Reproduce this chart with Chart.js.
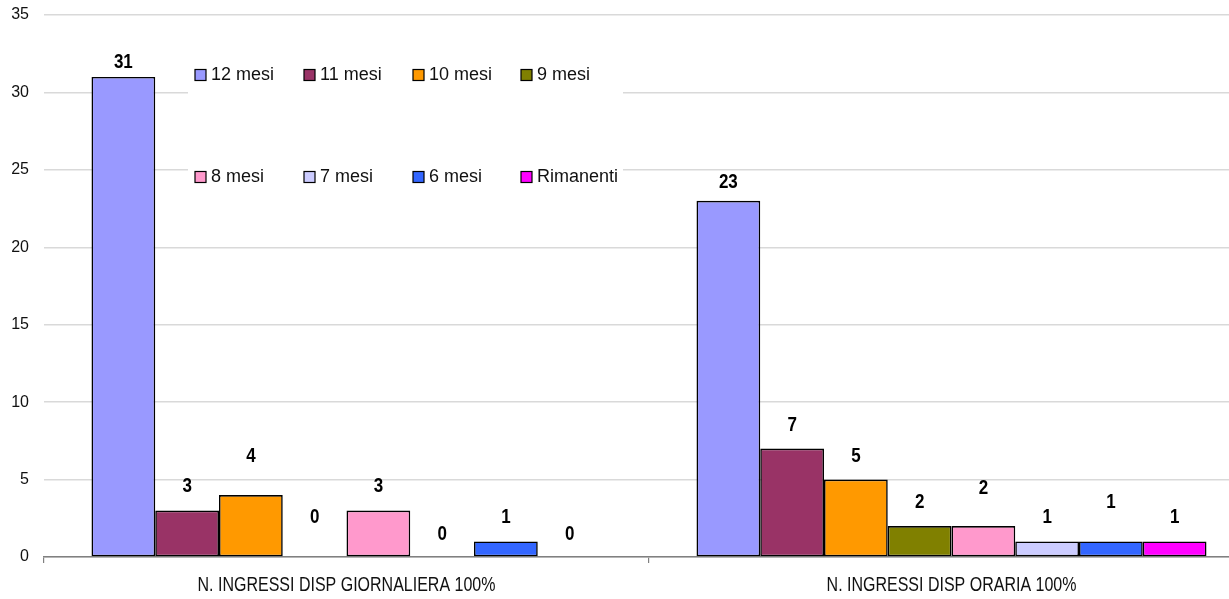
<!DOCTYPE html>
<html>
<head>
<meta charset="utf-8">
<script src="https://cdn.jsdelivr.net/npm/chart.js@4.4.1/dist/chart.umd.min.js"></script>
<style>
  html, body { margin: 0; padding: 0; background: #fff; overflow: hidden; }
  #wrap { width: 1254px; height: 599px; }
</style>
</head>
<body>
<div id="wrap"><canvas id="grafico"></canvas></div>
<script>
// categorie e serie (numero ingressi per durata)
const categorie = ['N. INGRESSI DISP GIORNALIERA 100%', 'N. INGRESSI DISP ORARIA 100%'];
const nomiSerie = ['12 mesi', '11 mesi', '10 mesi', '9 mesi', '8 mesi', '7 mesi', '6 mesi', 'Rimanenti'];
const mesi12 = [31, 23];
const mesi11 = [3, 7];
const mesi10 = [4, 5];
const mesi9 = [0, 2];
const mesi8 = [3, 2];
const mesi7 = [0, 1];
const mesi6 = [1, 1];
const rimanenti = [0, 1];
const tickY = [0, 5, 10, 15, 20, 25, 30, 35];

const valori = [mesi12, mesi11, mesi10, mesi9, mesi8, mesi7, mesi6, rimanenti];
const colori = ['#9999FF', '#993366', '#FF9900', '#808000', '#FF99CC', '#CCCCFF', '#3366FF', '#FF00FF'];

// distanza dell'etichetta dal bordo superiore della barra (per categoria)
const distanzaEtichette = [
    [14, 24, 39, 40, 24, 23, 24, 23],
    [18, 23, 23, 24, 38, 24, 39, 24]
];

const fontBase = "'Liberation Sans', Arial, sans-serif";

// testo compresso in orizzontale (effetto "narrow")
function testoStretto(ctx, testo, x, y, scala) {
    ctx.save();
    ctx.translate(x, y);
    ctx.scale(scala, 1);
    ctx.fillText(testo, 0, 0);
    ctx.restore();
}

// etichette dei valori sopra le barre
const etichettePlugin = {
    id: 'etichette',
    afterDatasetsDraw(chart) {
        const ctx = chart.ctx;
        ctx.save();
        ctx.font = 'bold 20px ' + fontBase;
        ctx.fillStyle = '#000';
        ctx.textAlign = 'center';
        ctx.textBaseline = 'middle';
        chart.data.datasets.forEach((ds, i) => {
            const meta = chart.getDatasetMeta(i);
            meta.data.forEach((bar, j) => {
                testoStretto(ctx, String(ds.data[j]), bar.x, bar.y - distanzaEtichette[j][i], 0.85);
            });
        });
        ctx.restore();
    }
};

// nomi delle categorie sotto l'asse x
const categoriePlugin = {
    id: 'nomiCategorie',
    afterDraw(chart) {
        const ctx = chart.ctx;
        const sx = chart.scales.x;
        ctx.save();
        ctx.font = '20px ' + fontBase;
        ctx.fillStyle = '#111';
        ctx.textAlign = 'center';
        ctx.textBaseline = 'middle';
        chart.data.labels.forEach((lab, i) => {
            testoStretto(ctx, lab, sx.getPixelForTick(i), sx.top + 28, 0.8);
        });
        ctx.restore();
    }
};

// legenda disegnata dentro l'area del grafico, su sfondo bianco
const legendaPlugin = {
    id: 'legendaInterna',
    afterDatasetsDraw(chart) {
        const ctx = chart.ctx;
        const colX = [195, 304, 413, 521];
        const rigaY = [75, 177];
        ctx.save();
        ctx.fillStyle = '#fff';
        ctx.fillRect(188, 52, 435, 145);
        ctx.font = '18px ' + fontBase;
        ctx.textBaseline = 'middle';
        ctx.textAlign = 'left';
        chart.data.datasets.forEach((ds, i) => {
            const x = colX[i % 4];
            const y = rigaY[Math.floor(i / 4)];
            ctx.fillStyle = ds.backgroundColor;
            ctx.fillRect(x, y - 5.5, 11, 11);
            ctx.strokeStyle = '#000';
            ctx.lineWidth = 1.2;
            ctx.strokeRect(x, y - 5.5, 11, 11);
            ctx.fillStyle = '#111';
            ctx.fillText(ds.label, x + 16, y);
        });
        ctx.restore();
    }
};

const datasets = nomiSerie.map((nome, i) => ({
    label: nome,
    data: valori[i],
    backgroundColor: colori[i],
    borderColor: '#000',
    borderWidth: c => (c.raw === 0 ? 0 : 1.6),
    borderSkipped: false,
    barPercentage: 1,
    categoryPercentage: 0.843
}));

new Chart(document.getElementById('grafico'), {
    type: 'bar',
    data: { labels: categorie, datasets: datasets },
    options: {
        responsive: true,
        maintainAspectRatio: false,
        animation: false,
        layout: { padding: { top: 15, left: 0, right: 0, bottom: 0 } },
        plugins: {
            legend: { display: false },
            tooltip: { enabled: false }
        },
        scales: {
            x: {
                afterFit: s => { s.height = 42; },
                border: { display: true, color: '#808080', width: 1.5 },
                grid: { drawOnChartArea: false, drawTicks: true, tickLength: 6, color: '#808080', lineWidth: 1.2, offset: true },
                ticks: { display: false }
            },
            y: {
                min: 0,
                max: 35,
                afterFit: s => { s.width = 44; s.paddingTop = 0; s.paddingBottom = 0; },
                afterBuildTicks: s => { s.ticks = tickY.map(v => ({ value: v })); },
                border: { display: false },
                grid: { color: '#d9d9d9', lineWidth: 1.5, drawTicks: false },
                ticks: {
                    color: '#111',
                    padding: 15,
                    font: { family: fontBase, size: 16 }
                }
            }
        }
    },
    plugins: [etichettePlugin, legendaPlugin, categoriePlugin]
});
</script>
</body>
</html>
